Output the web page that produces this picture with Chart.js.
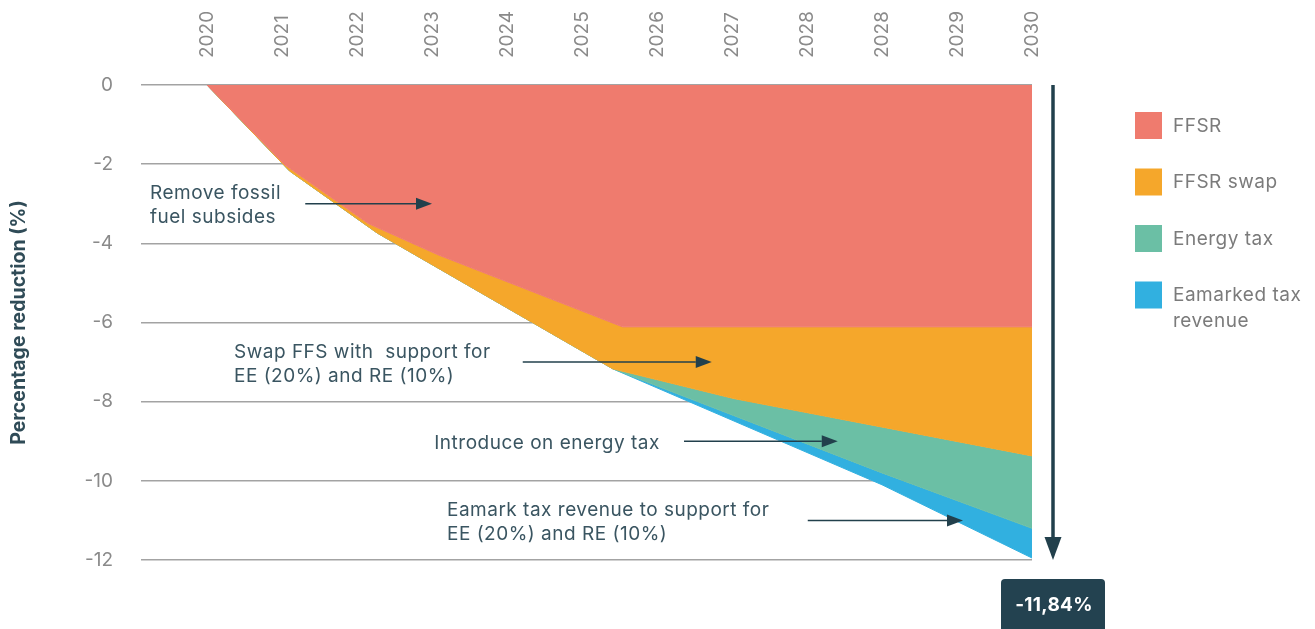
<!DOCTYPE html>
<html>
<head>
<meta charset="utf-8">
<script src="https://cdn.jsdelivr.net/npm/chart.js@4.4.0/dist/chart.umd.min.js"></script>
<style>
  html, body { margin: 0; padding: 0; background: #fff; }
  #wrap { position: relative; width: 1315px; height: 629px; }
</style>
</head>
<body>
<div id="wrap"><canvas id="chart"></canvas></div>
<script>
// Years on the top axis (2028 appears twice in the source chart)
const years = ['2020', '2021', '2022', '2023', '2024', '2025', '2026', '2027', '2028', '2028', '2029', '2030'];
const yTicks = [0, -2, -4, -6, -8, -10, -12];

const seriesNames = ['FFSR', 'FFSR swap', 'Energy tax', 'Eamarked tax revenue'];
const seriesColors = ['#ef7b6e', '#f5a72b', '#6bbfa5', '#31b0e0'];

// Cumulative reduction (%) = lower edge of each band; x = position on the year axis
const ffsrX = [0, 1.04, 2.15, 3.08, 5.54, 11];
const ffsrY = [0, -2.02, -3.5, -4.29, -6.11, -6.11];
const swapX = [0, 1.1, 2.27, 5.41, 7.02, 11];
const swapY = [0, -2.17, -3.74, -7.17, -7.92, -9.37];
const taxX = [0, 1.1, 2.27, 5.41, 9, 11];
const taxY = [0, -2.17, -3.74, -7.17, -9.8, -11.2];
const earmarkX = [0, 1.1, 2.27, 5.41, 9, 11];
const earmarkY = [0, -2.17, -3.74, -7.17, -10.1, -11.95];

const totalLabel = '-11,84%';

// Text callouts: text start, arrow from/to (year axis units), arrow level (%)
const notes = [
  { lines: ['Remove fossil', 'fuel subsides'], textX: -0.76, from: 1.31, to: 3.0, y: -3 },
  { lines: ['Swap FFS with  support for', 'EE (20%) and RE (10%)'], textX: 0.36, from: 4.21, to: 6.73, y: -7 },
  { lines: ['Introduce on energy tax'], textX: 3.03, from: 6.36, to: 8.41, y: -9 },
  { lines: ['Eamark tax revenue to support for', 'EE (20%) and RE (10%)'], textX: 3.2, from: 8.01, to: 10.08, y: -11 }
];

const FONT = 'Inter, "Noto Sans", sans-serif';
const DARK = '#22404c';

function toPoints(xs, ys) {
  return xs.map((x, i) => ({ x: x, y: ys[i] }));
}

function band(i, xs, ys, fill) {
  return {
    label: seriesNames[i],
    data: toPoints(xs, ys),
    backgroundColor: seriesColors[i],
    borderColor: seriesColors[i],
    borderWidth: 1,
    pointRadius: 0,
    tension: 0,
    fill: fill
  };
}

function drawArrow(ctx, x1, y1, x2, y2, width, headLen, headHalf) {
  const ang = Math.atan2(y2 - y1, x2 - x1);
  const bx = x2 - Math.cos(ang) * headLen;
  const by = y2 - Math.sin(ang) * headLen;
  ctx.lineWidth = width;
  ctx.beginPath();
  ctx.moveTo(x1, y1);
  ctx.lineTo(bx, by);
  ctx.stroke();
  ctx.beginPath();
  ctx.moveTo(x2, y2);
  ctx.lineTo(bx - Math.sin(ang) * headHalf, by + Math.cos(ang) * headHalf);
  ctx.lineTo(bx + Math.sin(ang) * headHalf, by - Math.cos(ang) * headHalf);
  ctx.closePath();
  ctx.fill();
}

function wrapText(ctx, text, maxWidth) {
  const words = text.split(' ');
  const out = [];
  let line = '';
  words.forEach(w => {
    const test = line ? line + ' ' + w : w;
    if (line && ctx.measureText(test).width > maxWidth) {
      out.push(line);
      line = w;
    } else {
      line = test;
    }
  });
  out.push(line);
  return out;
}

const extrasPlugin = {
  id: 'extras',
  afterDraw(chart) {
    const { ctx, chartArea, scales: { x, y } } = chart;
    ctx.save();

    // callouts
    ctx.font = '19px ' + FONT;
    ctx.letterSpacing = '0.5px';
    ctx.textBaseline = 'middle';
    ctx.textAlign = 'left';
    notes.forEach(n => {
      const ay = y.getPixelForValue(n.y);
      const top = ay + 2 - (n.lines.length - 1) * 12;
      ctx.fillStyle = '#3a5561';
      n.lines.forEach((t, i) => ctx.fillText(t, x.getPixelForValue(n.textX), top + i * 24));
      ctx.strokeStyle = DARK;
      ctx.fillStyle = DARK;
      drawArrow(ctx, x.getPixelForValue(n.from), ay, x.getPixelForValue(n.to), ay, 1.5, 16, 6);
    });

    // total reduction arrow + box
    const ax = chartArea.right + 21;
    ctx.strokeStyle = DARK;
    ctx.fillStyle = DARK;
    drawArrow(ctx, ax, y.getPixelForValue(0), ax, y.getPixelForValue(-12), 3.5, 23, 8.5);

    const boxTop = y.getPixelForValue(-12) + 19;
    ctx.fillStyle = '#234250';
    ctx.beginPath();
    ctx.roundRect(ax - 52, boxTop, 104, 60, 4);
    ctx.fill();
    ctx.fillStyle = '#ffffff';
    ctx.font = '700 19px ' + FONT;
    ctx.letterSpacing = '0.3px';
    ctx.textAlign = 'center';
    ctx.fillText(totalLabel, ax + 1, boxTop + 26);

    // legend
    ctx.font = '19px ' + FONT;
    ctx.letterSpacing = '0.5px';
    ctx.textAlign = 'left';
    chart.data.datasets.forEach((ds, i) => {
      const sx = chartArea.right + 103;
      const sy = chartArea.top + 27 + i * 56.5;
      ctx.fillStyle = ds.backgroundColor;
      ctx.fillRect(sx, sy, 27, 27);
      ctx.fillStyle = '#7b7b7b';
      wrapText(ctx, ds.label, 140).forEach((t, k) => ctx.fillText(t, sx + 38, sy + 14 + k * 26));
    });

    ctx.restore();
  }
};

new Chart(document.getElementById('chart'), {
  type: 'line',
  data: {
    datasets: [
      band(0, ffsrX, ffsrY, 'origin'),
      band(1, swapX, swapY, '-1'),
      band(2, taxX, taxY, '-1'),
      band(3, earmarkX, earmarkY, '-1')
    ]
  },
  options: {
    responsive: true,
    maintainAspectRatio: false,
    animation: false,
    layout: { padding: { left: 0, top: 0, right: 283, bottom: 69 } },
    plugins: {
      legend: { display: false },
      tooltip: { enabled: false }
    },
    scales: {
      x: {
        type: 'linear',
        position: 'top',
        min: -0.88,
        max: 11,
        grid: { display: false },
        border: { display: false },
        afterBuildTicks: axis => { axis.ticks = years.map((_, i) => ({ value: i })); },
        afterFit: axis => { axis.height = 85; },
        ticks: {
          autoSkip: false,
          minRotation: 90,
          maxRotation: 90,
          padding: 19,
          labelOffset: 23,
          color: '#8a8a8a',
          font: { family: FONT, size: 19 },
          callback: (v, i) => years[i]
        }
      },
      y: {
        min: -12,
        max: 0,
        afterBuildTicks: axis => { axis.ticks = yTicks.map(v => ({ value: v })); },
        afterFit: axis => { axis.width = 141; },
        grid: { color: '#a3a3a3', lineWidth: 1.5, drawTicks: false },
        border: { display: false },
        ticks: {
          padding: 28,
          color: '#8a8a8a',
          font: { family: FONT, size: 19 }
        },
        title: {
          display: true,
          text: 'Percentage reduction (%)',
          color: '#2f4b57',
          font: { family: FONT, size: 19.5, weight: '700' },
          padding: { top: 7, bottom: 0 }
        }
      }
    }
  },
  plugins: [extrasPlugin]
});
</script>
</body>
</html>
